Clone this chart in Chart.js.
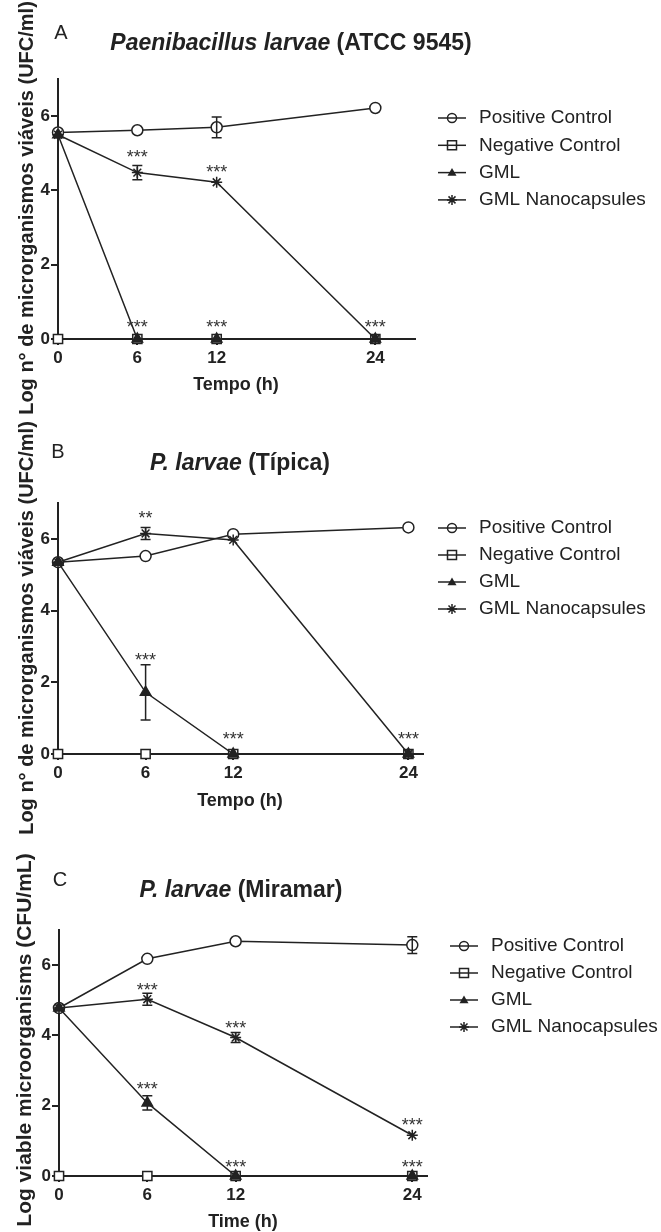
<!DOCTYPE html>
<html>
<head>
<meta charset="utf-8">
<script src="https://cdn.jsdelivr.net/npm/chart.js@4.4.1/dist/chart.umd.min.js"></script>
<style>
  body { margin: 0; background: #fff; }
  #wrap { position: relative; width: 661px; height: 1232px; overflow: hidden; }
  canvas { position: absolute; left: 0; }
</style>
</head>
<body>
<div id="wrap">
  <canvas id="chartA" width="661" height="420" style="top:0px"></canvas>
  <canvas id="chartB" width="661" height="440" style="top:400px"></canvas>
  <canvas id="chartC" width="661" height="412" style="top:820px"></canvas>
</div>
<script>
// shared
const timePoints = [0, 6, 12, 24];
const xTickValues = [0, 6, 12, 24];
const yTickValues = [0, 2, 4, 6];
const seriesLabels = ['Positive Control', 'Negative Control', 'GML', 'GML Nanocapsules'];

// panel A - ATCC 9545
const posCtrlA = [5.56, 5.62, 5.70, 6.22];
const negCtrlA = [0, 0, 0, 0];
const gmlA = [5.50, 0, 0, 0];
const nanoA = [5.50, 4.48, 4.22, 0];
const posErrA = [0, 0, 0.28, 0];
const nanoErrA = [0, 0.19, 0, 0];
const starsA = [[6, 5.0, '***'], [12, 4.6, '***'], [6, 0.42, '***'], [12, 0.42, '***'], [24, 0.42, '***']];

// panel B - Tipica
const posCtrlB = [5.35, 5.52, 6.13, 6.32];
const negCtrlB = [0, 0, 0, 0];
const gmlB = [5.35, 1.72, 0, 0];
const nanoB = [5.35, 6.15, 5.97, 0];
const gmlErrB = [0, 0.77, 0, 0];
const nanoErrB = [0, 0.17, 0, 0];
const starsB = [[6, 6.68, '**'], [6, 2.72, '***'], [12, 0.53, '***'], [24, 0.53, '***']];

// panel C - Miramar
const posCtrlC = [4.78, 6.18, 6.68, 6.57];
const negCtrlC = [0, 0, 0, 0];
const gmlC = [4.78, 2.08, 0, 0];
const nanoC = [4.78, 5.03, 3.94, 1.16];
const posErrC = [0, 0, 0, 0.24];
const gmlErrC = [0, 0.2, 0, 0];
const nanoErrC = [0, 0.17, 0.14, 0];
const starsC = [[6, 5.41, '***'], [12, 4.32, '***'], [6, 2.58, '***'], [24, 1.56, '***'], [12, 0.37, '***'], [24, 0.37, '***']];

const ink = '#222';
const family = '"Liberation Sans", Arial, sans-serif';

function pts(vals) {
  return timePoints.map((t, i) => ({ x: t, y: vals[i] }));
}

function drawMarker(ctx, style, x, y, r) {
  ctx.beginPath();
  if (style === 'circle') {
    ctx.arc(x, y, r, 0, Math.PI * 2);
    ctx.fillStyle = '#fff'; ctx.fill(); ctx.stroke();
  } else if (style === 'rect') {
    ctx.rect(x - r, y - r, 2 * r, 2 * r);
    ctx.fillStyle = '#fff'; ctx.fill(); ctx.stroke();
  } else if (style === 'triangle') {
    ctx.moveTo(x, y - r);
    ctx.lineTo(x + r, y + r * 0.7);
    ctx.lineTo(x - r, y + r * 0.7);
    ctx.closePath();
    ctx.fillStyle = ink; ctx.fill();
  } else {
    ctx.moveTo(x - r, y); ctx.lineTo(x + r, y);
    ctx.moveTo(x, y - r); ctx.lineTo(x, y + r);
    ctx.moveTo(x - r * 0.7, y - r * 0.7); ctx.lineTo(x + r * 0.7, y + r * 0.7);
    ctx.moveTo(x - r * 0.7, y + r * 0.7); ctx.lineTo(x + r * 0.7, y - r * 0.7);
    ctx.stroke();
  }
}

const panelDecor = {
  id: 'panelDecor',
  afterDatasetsDraw(chart, args, opts) {
    const { ctx, scales: { x, y } } = chart;
    ctx.save();
    ctx.strokeStyle = ink;
    ctx.lineWidth = 1.5;
    chart.data.datasets.forEach(ds => {
      if (!ds.errors) return;
      ds.data.forEach((p, i) => {
        const e = ds.errors[i];
        if (!e) return;
        const px = x.getPixelForValue(p.x);
        const top = y.getPixelForValue(p.y + e);
        const bot = y.getPixelForValue(p.y - e);
        ctx.beginPath();
        ctx.moveTo(px, top); ctx.lineTo(px, bot);
        ctx.moveTo(px - 5, top); ctx.lineTo(px + 5, top);
        ctx.moveTo(px - 5, bot); ctx.lineTo(px + 5, bot);
        ctx.stroke();
      });
    });
    // significance marks
    ctx.fillStyle = '#333';
    ctx.font = '18px ' + family;
    ctx.textAlign = 'center';
    ctx.textBaseline = 'alphabetic';
    opts.stars.forEach(([sx, sy, txt]) => {
      ctx.fillText(txt, x.getPixelForValue(sx), y.getPixelForValue(sy) + 10);
    });
    ctx.restore();
  },
  afterDraw(chart, args, opts) {
    const ctx = chart.ctx;
    ctx.save();
    ctx.fillStyle = ink;
    ctx.textBaseline = 'middle';

    // panel letter
    ctx.font = '20px ' + family;
    ctx.textAlign = 'center';
    ctx.fillText(opts.letter, opts.letterPos[0], opts.letterPos[1]);

    // title: italic species + bold strain
    ctx.textAlign = 'left';
    ctx.font = 'italic bold 23px ' + family;
    const w1 = ctx.measureText(opts.titleItalic).width;
    ctx.font = 'bold 23px ' + family;
    const w2 = ctx.measureText(opts.titleRest).width;
    const start = opts.titlePos[0] - (w1 + w2) / 2;
    ctx.font = 'italic bold 23px ' + family;
    ctx.fillText(opts.titleItalic, start, opts.titlePos[1]);
    ctx.font = 'bold 23px ' + family;
    ctx.fillText(opts.titleRest, start + w1, opts.titlePos[1]);

    // axis titles
    ctx.textAlign = 'center';
    ctx.font = 'bold 18px ' + family;
    ctx.fillText(opts.xTitle, opts.xTitlePos[0], opts.xTitlePos[1]);
    ctx.save();
    ctx.translate(opts.yTitlePos[0], opts.yTitlePos[1]);
    ctx.rotate(-Math.PI / 2);
    ctx.font = 'bold ' + opts.yTitleSize + 'px ' + family;
    ctx.fillText(opts.yTitle, 0, 0);
    ctx.restore();

    // legend
    const lg = opts.legend;
    ctx.font = '19px ' + family;
    ctx.textAlign = 'left';
    ctx.strokeStyle = ink;
    ctx.lineWidth = 1.5;
    chart.data.datasets.forEach((ds, i) => {
      const ly = lg.y + i * lg.gap;
      drawMarker(ctx, ds.pointStyle, lg.x, ly, ds.pointStyle === 'star' ? 5 : 4.5);
      ctx.beginPath();
      ctx.moveTo(lg.x - 14, ly); ctx.lineTo(lg.x + 14, ly);
      ctx.stroke();
      ctx.fillStyle = ink;
      ctx.fillText(ds.label, lg.x + 27, ly);
    });
    ctx.restore();
  }
};

function makeDatasets(pos, neg, gml, nano, errs) {
  const base = { borderColor: ink, borderWidth: 1.5, pointBorderColor: ink, pointBorderWidth: 1.5, tension: 0, clip: false };
  return [
    { ...base, label: seriesLabels[0], data: pts(pos), pointStyle: 'circle', pointRadius: 5.5, pointBackgroundColor: '#fff', errors: errs.pos, order: 3 },
    { ...base, label: seriesLabels[1], data: pts(neg), pointStyle: 'rect', pointRadius: 6.5, pointBackgroundColor: '#fff', order: 4 },
    { ...base, label: seriesLabels[2], data: pts(gml), pointStyle: 'triangle', pointRadius: 6, pointBackgroundColor: ink, errors: errs.gml, order: 1 },
    { ...base, label: seriesLabels[3], data: pts(nano), pointStyle: 'star', pointRadius: 5.5, pointBackgroundColor: ink, errors: errs.nano, order: 2 },
  ];
}

function panelOptions(cfg) {
  const tickFont = { family: family, size: 17, weight: 'bold' };
  return {
    responsive: false,
    animation: false,
    layout: { padding: cfg.padding },
    scales: {
      x: {
        type: 'linear', min: 0, max: cfg.xMax,
        afterBuildTicks: s => { s.ticks = xTickValues.map(v => ({ value: v })); },
        afterFit: s => { s.height = 40; },
        grid: { drawOnChartArea: false, tickLength: 6, color: ink, lineWidth: 2 },
        border: { color: ink, width: 2 },
        ticks: { font: tickFont, color: ink, padding: 3, maxRotation: 0, autoSkip: false },
      },
      y: {
        min: 0, max: 7,
        afterBuildTicks: s => { s.ticks = yTickValues.map(v => ({ value: v })); },
        afterFit: s => { s.width = cfg.yWidth; },
        grid: { drawOnChartArea: false, tickLength: 7, color: ink, lineWidth: 2 },
        border: { color: ink, width: 2 },
        ticks: { font: tickFont, color: ink, padding: 1 },
      },
    },
    plugins: {
      legend: { display: false },
      tooltip: { enabled: false },
      panelDecor: cfg.decor,
    },
  };
}

new Chart(document.getElementById('chartA'), {
  type: 'line',
  data: { datasets: makeDatasets(posCtrlA, negCtrlA, gmlA, nanoA, { pos: posErrA, nano: nanoErrA }) },
  options: panelOptions({
    padding: { top: 79, right: 246, bottom: 41, left: 0 }, xMax: 27, yWidth: 58,
    decor: {
      letter: 'A', letterPos: [61, 33],
      titleItalic: 'Paenibacillus larvae', titleRest: ' (ATCC 9545)', titlePos: [291, 44],
      xTitle: 'Tempo (h)', xTitlePos: [236, 385],
      yTitle: 'Log n° de microrganismos viáveis (UFC/ml)', yTitlePos: [27, 208], yTitleSize: 20,
      legend: { x: 452, y: 118, gap: 27.3 },
      stars: starsA,
    },
  }),
  plugins: [panelDecor],
});

new Chart(document.getElementById('chartB'), {
  type: 'line',
  data: { datasets: makeDatasets(posCtrlB, negCtrlB, gmlB, nanoB, { gml: gmlErrB, nano: nanoErrB }) },
  options: panelOptions({
    padding: { top: 103, right: 238, bottom: 46, left: 0 }, xMax: 25, yWidth: 58,
    decor: {
      letter: 'B', letterPos: [58, 52],
      titleItalic: 'P. larvae', titleRest: ' (Típica)', titlePos: [240, 64],
      xTitle: 'Tempo (h)', xTitlePos: [240, 401],
      yTitle: 'Log n° de microrganismos viáveis (UFC/ml)', yTitlePos: [27, 228], yTitleSize: 20,
      legend: { x: 452, y: 128, gap: 27 },
      stars: starsB,
    },
  }),
  plugins: [panelDecor],
});

new Chart(document.getElementById('chartC'), {
  type: 'line',
  data: { datasets: makeDatasets(posCtrlC, negCtrlC, gmlC, nanoC, { pos: posErrC, gml: gmlErrC, nano: nanoErrC }) },
  options: panelOptions({
    padding: { top: 110, right: 234, bottom: 16, left: 0 }, xMax: 25, yWidth: 59,
    decor: {
      letter: 'C', letterPos: [60, 60],
      titleItalic: 'P. larvae', titleRest: ' (Miramar)', titlePos: [241, 71],
      xTitle: 'Time (h)', xTitlePos: [243, 402],
      yTitle: 'Log viable microorganisms (CFU/mL)', yTitlePos: [25, 220], yTitleSize: 21,
      legend: { x: 464, y: 126, gap: 27 },
      stars: starsC,
    },
  }),
  plugins: [panelDecor],
});
</script>
</body>
</html>
